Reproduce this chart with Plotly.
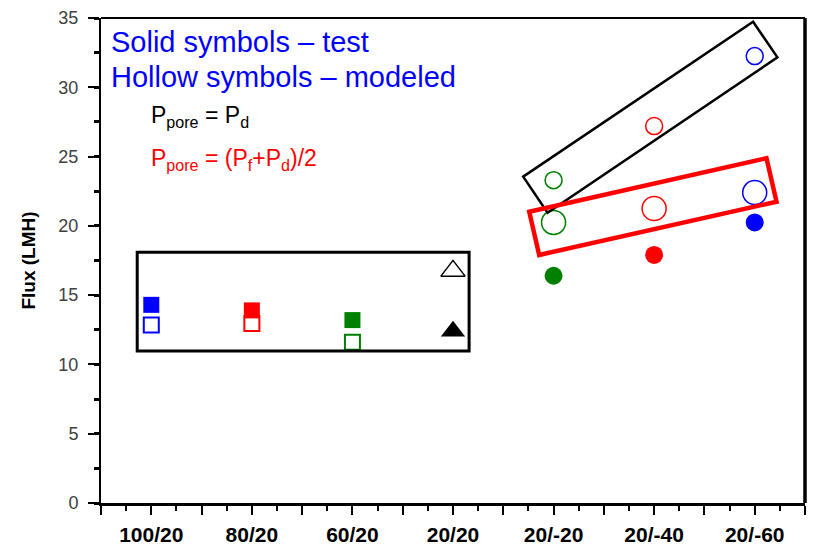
import plotly.graph_objects as go

categories = ["100/20", "80/20", "60/20", "20/20", "20/-20", "20/-40", "20/-60"]

# squares (first three categories)
sq_cats = ["100/20", "80/20", "60/20"]
sq_colors = ["#0000FF", "#FF0000", "#008000"]
sq_test = [14.3, 13.9, 13.2]
sq_model = [12.85, 12.95, 11.6]

# triangles (20/20)
tri_cats = ["20/20"]
tri_test = [12.4]
tri_model = [16.75]

# circles (last three categories)
ci_cats = ["20/-20", "20/-40", "20/-60"]
ci_colors = ["#008000", "#FF0000", "#0000FF"]
ci_test = [16.4, 17.9, 20.25]
ci_model_pd = [23.3, 27.2, 32.25]
ci_model_avg = [20.25, 21.25, 22.4]

yticks = [0, 5, 10, 15, 20, 25, 30, 35]

idx = {c: i for i, c in enumerate(categories)}
def xs(cats):
    return [idx[c] for c in cats]

fig = go.Figure()
fig.add_trace(go.Scatter(x=xs(sq_cats), y=sq_test, mode="markers",
                         marker=dict(symbol="square", size=16, color=sq_colors, line=dict(width=0))))
fig.add_trace(go.Scatter(x=xs(sq_cats), y=sq_model, mode="markers",
                         marker=dict(symbol="square-open", size=15, color=sq_colors, line=dict(width=2))))
fig.add_trace(go.Scatter(x=xs(tri_cats), y=tri_test, mode="markers",
                         marker=dict(symbol="triangle-up", size=21, color="black", line=dict(width=0))))
fig.add_trace(go.Scatter(x=xs(tri_cats), y=tri_model, mode="markers",
                         marker=dict(symbol="triangle-up-open", size=21, color="black", line=dict(width=1.5))))
fig.add_trace(go.Scatter(x=xs(ci_cats), y=ci_test, mode="markers",
                         marker=dict(symbol="circle", size=18, color=ci_colors, line=dict(width=0))))
fig.add_trace(go.Scatter(x=xs(ci_cats), y=ci_model_pd, mode="markers",
                         marker=dict(symbol="circle-open", size=17, color=ci_colors, line=dict(width=1.5))))
fig.add_trace(go.Scatter(x=xs(ci_cats), y=ci_model_avg, mode="markers",
                         marker=dict(symbol="circle-open", size=24, color=ci_colors, line=dict(width=1.5))))

major_vals = [v / 2 for v in range(-1, 14)]
major_text = [categories[int(v)] if v >= 0 and v == int(v) else "" for v in major_vals]

fig.update_xaxes(range=[-0.5, 6.5], tickmode="array", tickvals=major_vals, ticktext=major_text,
                 ticks="outside", ticklen=9, tickwidth=2, tickcolor="black", ticklabelstandoff=2,
                 showline=True, linewidth=3, linecolor="black", showgrid=False, zeroline=False,
                 automargin=False,
                 tickfont=dict(family="Arial, Liberation Sans", size=21, color="black", weight="bold"),
                 minor=dict(tickmode="linear", tick0=-0.5, dtick=0.25, ticks="outside", ticklen=5,
                            tickwidth=2, tickcolor="black"))
fig.update_yaxes(range=[0, 35], tickmode="array", tickvals=yticks,
                 ticks="outside", ticklen=11, tickwidth=1.5, tickcolor="black", ticklabelstandoff=6,
                 showline=True, linewidth=2, linecolor="black", showgrid=False, zeroline=False,
                 automargin=False,
                 tickfont=dict(family="Arial, Liberation Sans", size=18, color="#404040"),
                 title=dict(text="Flux (LMH)", standoff=18,
                            font=dict(family="Arial, Liberation Sans", size=19, color="black", weight="bold")),
                 minor=dict(tickmode="linear", tick0=0, dtick=2.5, ticks="outside", ticklen=5,
                            tickwidth=2.5, tickcolor="black"))

# frame lines (top thin, right thick)
fig.add_shape(type="line", xref="paper", yref="paper", x0=0, x1=1, y0=1, y1=1,
              line=dict(color="black", width=2))
fig.add_shape(type="line", xref="paper", yref="paper", x0=1, x1=1, y0=0, y1=1,
              line=dict(color="black", width=3.5))

# grouping boxes
fig.add_shape(type="rect", x0=-0.14, x1=3.16, y0=10.97, y1=18.1,
              line=dict(color="black", width=3))
fig.add_shape(type="path", path="M 3.698 23.55 L 5.984 34.73 L 6.226 32.16 L 3.94 20.95 Z",
              line=dict(color="black", width=2.5))
fig.add_shape(type="path", path="M 3.758 21.02 L 6.117 24.88 L 6.217 21.74 L 3.857 17.9 Z",
              line=dict(color="#FF0000", width=4.5))

ann_font = "Arial, Liberation Sans"
fig.add_annotation(xref="paper", yref="paper", x=0.0114, y=0.9505, xanchor="left", yanchor="middle",
                   text="Solid symbols – test", showarrow=False,
                   font=dict(family=ann_font, size=29, color="#0000FF"))
fig.add_annotation(xref="paper", yref="paper", x=0.0114, y=0.8784, xanchor="left", yanchor="middle",
                   text="Hollow symbols – modeled", showarrow=False,
                   font=dict(family=ann_font, size=29, color="#0000FF"))
fig.add_annotation(xref="paper", yref="paper", x=0.0682, y=0.796, xanchor="left", yanchor="middle",
                   text="P<sub>pore</sub> = P<sub>d</sub>", showarrow=False,
                   font=dict(family=ann_font, size=23, color="black"))
fig.add_annotation(xref="paper", yref="paper", x=0.0682, y=0.7073, xanchor="left", yanchor="middle",
                   text="P<sub>pore</sub> = (P<sub>f</sub>+P<sub>d</sub>)/2", showarrow=False,
                   font=dict(family=ann_font, size=23, color="#FF0000"))

fig.update_layout(width=813, height=549, margin=dict(l=101, r=8, t=18, b=46),
                  plot_bgcolor="white", paper_bgcolor="white", showlegend=False)

fig.write_html("out.html")
